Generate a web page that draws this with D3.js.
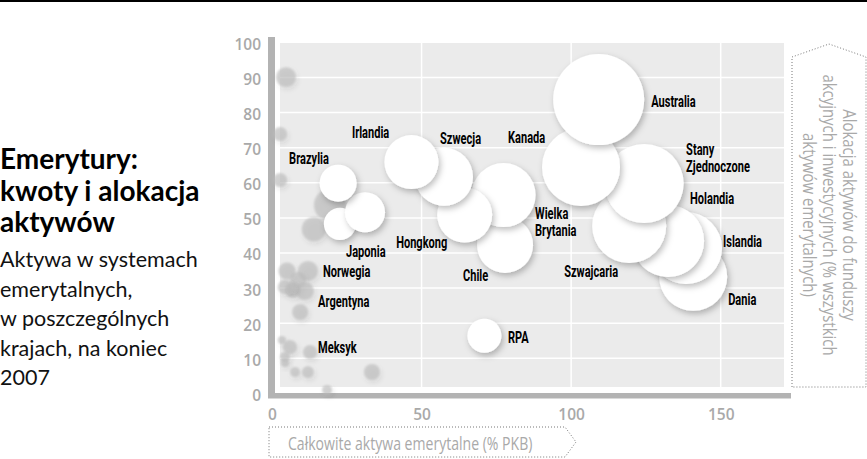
<!DOCTYPE html>
<html>
<head>
<meta charset="utf-8">
<script src="https://cdn.jsdelivr.net/npm/d3@7"></script>
<style>
  body { margin: 0; background: #fff; }
  svg { display: block; }
</style>
</head>
<body>
<div id="chart"></div>
<script>
// osie
const xTicks = [0, 50, 100, 150];
const yTicks = [0, 10, 20, 30, 40, 50, 60, 70, 80, 90, 100];

// kraje opisane (białe bąble), w kolejności rysowania
const countries = ['Dania', 'Islandia', 'Holandia', 'Szwajcaria', 'Stany Zjednoczone', 'Kanada', 'Australia',
  'Chile', 'Wielka Brytania', 'Hongkong', 'Szwecja', 'Irlandia', 'RPA', '', 'Japonia', 'Brazylia'];
const assets = [140.8, 138.4, 132.4, 119.4, 124.4, 103.3, 109.2, 77.9, 77.4, 64.4, 57.5, 46.6, 71.0, 22.7, 31.1, 22.1];
const equity = [33.2, 41.4, 43.4, 47.7, 59.8, 64.5, 83.7, 42.3, 56.5, 50.8, 61.7, 65.9, 16.4, 48.3, 51.6, 59.9];
const sizes = [55.8, 62.6, 62.6, 66.1, 75.4, 73.5, 100, 37.9, 49.5, 36.5, 40.6, 35.2, 14.0, 12.4, 19.3, 16.5];

// pozostałe kraje (szare bąble)
const otherNames = ['', '', '', '', '', '', 'Norwegia', '', '', '', '', '', 'Argentyna', '', '', 'Meksyk', '', '', '', '', '', ''];
const otherAssets = [4.7, 2.7, 2.7, 19.4, 14.0, 5.0, 12.0, 8.7, 7.0, 11.0, 4.3, 6.7, 9.4, 3.3, 6.0, 12.7, 4.3, 4.3, 7.7, 12.0, 33.4, 18.4];
const otherEquity = [90.1, 73.9, 60.8, 53.7, 46.8, 34.9, 34.9, 32.3, 29.5, 29.2, 30.3, 30.0, 23.2, 15.2, 13.2, 11.8, 10.4, 8.7, 6.1, 6.1, 6.1, 1.0];
const otherSizes = [4.8, 2.4, 2.4, 12.4, 7.0, 3.5, 4.8, 3.1, 3.1, 3.9, 2.4, 0.8, 3.1, 0.8, 2.4, 2.4, 1.2, 0.8, 1.2, 1.7, 3.1, 1.2];

// rozmieszczenie podpisów względem środka bąbla [dx, dy]
const labelOffsets = {
  'Australia': [52.5, 1.5],
  'Kanada': [-73, -30],
  'Stany Zjednoczone': [42, -34.5],
  'Holandia': [22, -43],
  'Islandia': [37, -7],
  'Dania': [35, 23],
  'Szwajcaria': [-65, 46],
  'Wielka Brytania': [31.5, 18],
  'Chile': [-42, 31],
  'Hongkong': [-68.5, 27],
  'Szwecja': [-4, -38],
  'Irlandia': [-59.5, -30],
  'RPA': [23.5, 2],
  'Japonia': [-19, 39],
  'Brazylia': [-49, -25],
  'Norwegia': [15, 1],
  'Argentyna': [18, -10],
  'Meksyk': [8, -4]
};
const twoLine = { 'Stany Zjednoczone': ['Stany', 'Zjednoczone'], 'Wielka Brytania': ['Wielka', 'Brytania'] };

const W = 867, H = 459;
const panel = { x0: 280, x1: 784, y0: 43, y1: 387 };
const grey = '#a9a9a9';

const x = d3.scaleLinear().domain([0, 150]).range([272, 720.7]);
const y = d3.scaleLinear().domain([0, 100]).range([393.4, 42.4]);
const r = d3.scaleSqrt().domain([0, 100]).range([0, 45.5]);

const svg = d3.select('#chart').append('svg')
  .attr('width', W)
  .attr('height', H);

const defs = svg.append('defs');
defs.append('filter').attr('id', 'shadow')
  .attr('x', '-30%').attr('y', '-30%').attr('width', '170%').attr('height', '170%')
  .append('feDropShadow')
  .attr('dx', 2).attr('dy', 3).attr('stdDeviation', 3)
  .attr('flood-color', '#000').attr('flood-opacity', 0.26);

const soft = defs.append('filter').attr('id', 'soft')
  .attr('x', '-60%').attr('y', '-60%').attr('width', '220%').attr('height', '220%');
soft.append('feGaussianBlur').attr('in', 'SourceGraphic').attr('stdDeviation', 1.3).attr('result', 'b');
soft.append('feDropShadow').attr('in', 'b').attr('dx', 1.5).attr('dy', 2.5).attr('stdDeviation', 2)
  .attr('flood-color', '#000').attr('flood-opacity', 0.16);

// czarna linia na górze
svg.append('rect').attr('x', 0).attr('y', 0).attr('width', W).attr('height', 2).attr('fill', '#000');

// tło wykresu i siatka
svg.append('rect')
  .attr('x', panel.x0).attr('y', panel.y0)
  .attr('width', panel.x1 - panel.x0).attr('height', panel.y1 - panel.y0)
  .attr('fill', '#ebebeb');

svg.append('g').selectAll('line')
  .data(yTicks.filter(d => d > 0 && d < 100))
  .join('line')
  .attr('x1', panel.x0).attr('x2', panel.x1)
  .attr('y1', d => y(d)).attr('y2', d => y(d))
  .attr('stroke', '#fff').attr('stroke-width', 1.5);

svg.append('g').selectAll('line')
  .data(xTicks.filter(d => d > 0))
  .join('line')
  .attr('x1', d => x(d)).attr('x2', d => x(d))
  .attr('y1', panel.y0).attr('y2', panel.y1)
  .attr('stroke', '#fff').attr('stroke-width', 1.5);

// grube szare osie
svg.append('rect').attr('x', 268).attr('y', 37).attr('width', 7).attr('height', 361).attr('fill', '#b3b3b3');
svg.append('rect').attr('x', 268).attr('y', 393).attr('width', 523).attr('height', 5.5).attr('fill', '#b3b3b3');

// podpisy osi
const yAxis = svg.append('g')
  .attr('transform', 'translate(265,0)')
  .call(d3.axisLeft(y).tickValues(yTicks).tickSize(0).tickPadding(4));
yAxis.select('.domain').remove();
yAxis.selectAll('text').attr('dy', '0.45em');

const xAxis = svg.append('g')
  .attr('transform', 'translate(0,398)')
  .call(d3.axisBottom(x).tickValues(xTicks).tickSize(0).tickPadding(11));
xAxis.select('.domain').remove();

svg.selectAll('.tick text')
  .attr('fill', grey)
  .style('font-family', '"Open Sans", sans-serif')
  .style('font-weight', 600)
  .style('font-size', '15.5px');

// szare bąble
const others = otherNames.map((name, i) => ({ name, a: otherAssets[i], e: otherEquity[i], s: otherSizes[i] }));
svg.append('g').selectAll('circle')
  .data(others)
  .join('circle')
  .attr('cx', d => x(d.a))
  .attr('cy', d => y(d.e))
  .attr('r', d => r(d.s))
  .attr('fill', '#bdbdbd')
  .attr('fill-opacity', 0.65)
  .attr('filter', 'url(#soft)');

// białe bąble
const main = countries.map((name, i) => ({ name, a: assets[i], e: equity[i], s: sizes[i] }));
svg.append('g').selectAll('circle')
  .data(main)
  .join('circle')
  .attr('cx', d => x(d.a))
  .attr('cy', d => y(d.e))
  .attr('r', d => r(d.s))
  .attr('fill', '#fff')
  .attr('filter', 'url(#shadow)');

// podpisy krajów
const labelled = main.concat(others).filter(d => d.name && labelOffsets[d.name]);
const labels = svg.append('g').selectAll('text')
  .data(labelled)
  .join('text')
  .attr('transform', d => {
    const o = labelOffsets[d.name];
    return `translate(${x(d.a) + o[0]},${y(d.e) + o[1] + 5.5}) scale(0.7,1)`;
  })
  .style('font-family', 'Roboto, sans-serif')
  .style('font-weight', 700)
  .style('font-size', '15.8px')
  .attr('fill', '#000');

labels.each(function (d) {
  const lines = twoLine[d.name] || [d.name];
  d3.select(this).selectAll('tspan')
    .data(lines)
    .join('tspan')
    .attr('x', 0)
    .attr('dy', (l, i) => i === 0 ? 0 : 17.5)
    .text(l => l);
});

// tytuł
const title = ['Emerytury:', 'kwoty i alokacja', 'aktywów'];
svg.append('g').selectAll('text')
  .data(title)
  .join('text')
  .attr('x', 0)
  .attr('y', (d, i) => 169 + i * 31.5)
  .style('font-family', 'Lato, sans-serif')
  .style('font-weight', 700)
  .style('font-size', '28px')
  .attr('fill', '#000')
  .text(d => d);

const subtitle = ['Aktywa w systemach', 'emerytalnych,', 'w poszczególnych', 'krajach, na koniec', '2007'];
svg.append('g').selectAll('text')
  .data(subtitle)
  .join('text')
  .attr('x', 0)
  .attr('y', (d, i) => 267 + i * 29.6)
  .style('font-family', 'Lato, sans-serif')
  .style('font-size', '21.5px')
  .attr('fill', '#111')
  .text(d => d);

// ramki opisów osi
svg.append('path')
  .attr('d', 'M269,427 L565,427 L576,442 L565,457 L269,457 Z')
  .attr('fill', 'none').attr('stroke', '#777').attr('stroke-width', 1).attr('stroke-dasharray', '1 2');
svg.append('path')
  .attr('d', 'M792,387 L792,57 L829,44 L866,57 L866,387 Z')
  .attr('fill', 'none').attr('stroke', '#777').attr('stroke-width', 1).attr('stroke-dasharray', '1 2');

svg.append('text')
  .attr('transform', 'translate(288,450) scale(0.74,1)')
  .style('font-family', '"Open Sans", sans-serif')
  .style('font-size', '19px')
  .attr('fill', grey)
  .text('Całkowite aktywa emerytalne (% PKB)');

const yLabel = ['Alokacja aktywów do funduszy', 'akcyjnych i inwestycyjnych (% wszystkich', 'aktywów emerytalnych)'];
svg.append('g')
  .attr('transform', 'translate(829,215) rotate(90)')
  .selectAll('text')
  .data(yLabel)
  .join('text')
  .attr('transform', (d, i) => `translate(0,${(i - 1) * 20 + 6.5}) scale(0.83,1)`)
  .attr('text-anchor', 'middle')
  .style('font-family', '"Open Sans", sans-serif')
  .style('font-size', '18px')
  .attr('fill', grey)
  .text(d => d);
</script>
</body>
</html>
